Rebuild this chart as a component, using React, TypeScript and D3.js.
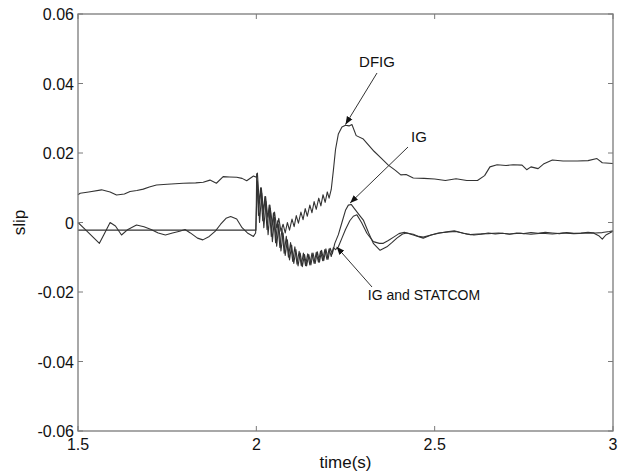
import React from "react";
import * as d3 from "d3";

const xTicks = [1.5, 2, 2.5, 3];
const yTicks = [-0.06, -0.04, -0.02, 0, 0.02, 0.04, 0.06];
const yTickLabels = ["-0.06", "-0.04", "-0.02", "0", "0.02", "0.04", "0.06"];

// DFIG slip
const dfigT = [1.5, 1.506, 1.53, 1.566, 1.59, 1.608, 1.63, 1.646, 1.665, 1.683, 1.70, 1.72, 1.75, 1.795, 1.83, 1.851, 1.87, 1.888, 1.907, 1.925, 1.945, 1.96, 1.973, 1.992, 2.0, 2.003,
  2.008, 2.014, 2.02, 2.026, 2.032, 2.038, 2.045, 2.051, 2.057, 2.063, 2.069, 2.075, 2.081, 2.087, 2.093, 2.1, 2.106, 2.112, 2.118, 2.125, 2.131, 2.137, 2.143, 2.15, 2.156, 2.162, 2.168, 2.175, 2.181, 2.187, 2.193, 2.199, 2.204,
  2.21, 2.216, 2.222, 2.23, 2.24, 2.25, 2.26, 2.268, 2.28, 2.3, 2.33, 2.35, 2.37, 2.39, 2.405, 2.42, 2.44, 2.47, 2.5, 2.53, 2.56, 2.59, 2.62, 2.64, 2.655, 2.675, 2.7, 2.72, 2.745, 2.758, 2.77, 2.79, 2.805, 2.83, 2.86, 2.9, 2.93, 2.955, 2.97, 3.0];
const dfigV = [0.008, 0.0084, 0.0088, 0.0094, 0.0088, 0.0079, 0.0082, 0.0089, 0.0092, 0.0096, 0.0102, 0.0108, 0.011, 0.0113, 0.0114, 0.0116, 0.0122, 0.0113, 0.0132, 0.0131, 0.013, 0.0127, 0.012, 0.0134, 0.013, 0.0142,
  0.006, 0.01, 0.0035, 0.0075, 0.0015, 0.005, -0.0005, 0.003, -0.0015, 0.0012, -0.0025, -0.0005, -0.003, 0.0, -0.0022, 0.001, -0.0012, 0.002, -0.0002, 0.003, 0.0008, 0.004, 0.0018, 0.005, 0.0028, 0.006, 0.0038, 0.007, 0.0048, 0.008, 0.0058, 0.0088, 0.007,
  0.0095, 0.015, 0.021, 0.0255, 0.0275, 0.028, 0.0278, 0.0282, 0.025, 0.024, 0.0205, 0.0185, 0.0165, 0.015, 0.0137, 0.0138, 0.0128, 0.0127, 0.0125, 0.0121, 0.0126, 0.0121, 0.0121, 0.0135, 0.016, 0.0166, 0.0164, 0.0166, 0.0165, 0.0152, 0.016, 0.0155, 0.0168, 0.018, 0.0177, 0.0177, 0.0178, 0.0184, 0.0172, 0.017];

// IG slip
const igT = [1.5, 1.52, 1.545, 1.56, 1.575, 1.59, 1.605, 1.622, 1.64, 1.664, 1.685, 1.705, 1.725, 1.745, 1.765, 1.785, 1.8, 1.815, 1.835, 1.85, 1.868, 1.885, 1.9, 1.915, 1.928, 1.945, 1.96, 1.975, 1.992, 1.998,
  2.003, 2.009, 2.015, 2.021, 2.027, 2.033, 2.039, 2.045, 2.051, 2.057, 2.063, 2.069, 2.075, 2.081, 2.087, 2.093, 2.099, 2.105, 2.111, 2.117, 2.123, 2.129, 2.135, 2.141, 2.147, 2.153, 2.159, 2.165, 2.171, 2.177, 2.183, 2.189, 2.195, 2.201, 2.207, 2.213,
  2.22, 2.23, 2.24, 2.25, 2.258, 2.266, 2.275, 2.29, 2.3, 2.315, 2.328, 2.347, 2.366, 2.38, 2.394, 2.41, 2.422, 2.44, 2.455, 2.468, 2.49, 2.515, 2.54, 2.555, 2.57, 2.59, 2.61, 2.63,
  2.65, 2.67, 2.69, 2.71, 2.73, 2.75, 2.77, 2.79, 2.81, 2.83, 2.85, 2.87, 2.89, 2.91, 2.93, 2.95, 2.97, 2.99, 3.0];
const igV = [0.0, -0.002, -0.0045, -0.006, -0.003, 0.0, -0.001, -0.0036, -0.002, -0.0007, -0.0012, -0.002, -0.003, -0.0036, -0.003, -0.0025, -0.002, -0.003, -0.0045, -0.005, -0.004, -0.0025, -0.0005, 0.0012, 0.0017, 0.001, -0.0015, -0.003, -0.004, -0.003,
  0.012, 0.0, 0.0085, -0.0015, 0.006, -0.0035, 0.004, -0.0055, 0.0015, -0.0068, -0.0005, -0.0082, -0.003, -0.0095, -0.005, -0.0108, -0.0065, -0.0118, -0.0078, -0.0125, -0.0088, -0.0127, -0.0092, -0.0125, -0.0092, -0.0122, -0.0088, -0.0118, -0.0084, -0.0114, -0.008, -0.011, -0.0076, -0.0106, -0.0074, -0.009,
  -0.006, -0.0035, 0.0, 0.0035, 0.005, 0.0052, 0.004, 0.002, 0.0007, -0.003, -0.006, -0.008, -0.007, -0.0058, -0.0045, -0.0033, -0.003, -0.0034, -0.004, -0.0042, -0.0036, -0.003, -0.0026, -0.0024, -0.0028, -0.0033, -0.0036, -0.0034,
  -0.003, -0.0033, -0.0031, -0.0034, -0.003, -0.0032, -0.0029, -0.0031, -0.0028, -0.003, -0.0032, -0.0029, -0.0031, -0.003, -0.0028, -0.003, -0.0029, -0.0026, -0.0024];

// IG and STATCOM slip
const igsT = [1.5, 1.999, 2.001, 2.006, 2.012, 2.018, 2.024, 2.03, 2.036, 2.042, 2.048, 2.054, 2.06, 2.066, 2.072, 2.078, 2.084, 2.09, 2.096, 2.102, 2.108, 2.114, 2.12, 2.126, 2.132, 2.138, 2.144, 2.15, 2.156, 2.162, 2.168, 2.174, 2.18, 2.186, 2.192, 2.198, 2.204, 2.21, 2.216,
  2.222, 2.23, 2.24, 2.25, 2.262, 2.272, 2.282, 2.295, 2.31, 2.328, 2.345, 2.356, 2.37, 2.385, 2.4, 2.415, 2.44, 2.468, 2.49,
  2.51, 2.54, 2.56, 2.58, 2.6, 2.62, 2.65, 2.68, 2.71, 2.74, 2.77, 2.8, 2.83, 2.86, 2.89, 2.92, 2.945, 2.96, 2.97, 2.98, 3.0];
const igsV = [-0.0022, -0.0022, 0.014, 0.002, 0.01, 0.0005, 0.0075, -0.002, 0.005, -0.004, 0.0028, -0.0058, 0.0005, -0.0072, -0.0018, -0.0088, -0.004, -0.01, -0.0058, -0.0112, -0.007, -0.012, -0.0083, -0.0124, -0.0088, -0.0124, -0.009, -0.0122, -0.0088, -0.0118, -0.0086, -0.0114, -0.0082, -0.011, -0.0078, -0.0106, -0.0076, -0.0098, -0.0072,
  -0.0078, -0.007, -0.0045, -0.002, 0.0005, 0.0018, 0.0022, 0.0, -0.0031, -0.0055, -0.006, -0.006, -0.0052, -0.0042, -0.0032, -0.0028, -0.0036, -0.0045, -0.0036,
  -0.003, -0.0027, -0.0026, -0.0031, -0.0035, -0.0033, -0.0032, -0.003, -0.0033, -0.0031, -0.0034, -0.0031, -0.0033, -0.003, -0.0032, -0.0031, -0.003, -0.0038, -0.0048, -0.0036, -0.0025];

const W = 635;
const H = 476;
const M = { left: 78, right: 22, top: 14, bottom: 45 };
const FONT = "'Liberation Sans', Arial, sans-serif";

export default function App() {
  const x = d3.scaleLinear().domain([1.5, 3]).range([M.left, W - M.right]);
  const y = d3.scaleLinear().domain([-0.06, 0.06]).range([H - M.bottom, M.top]);
  const line = d3
    .line<[number, number]>()
    .x((d) => x(d[0]))
    .y((d) => y(d[1]));
  const zip = (t: number[], v: number[]) => t.map((tt, i) => [tt, v[i]] as [number, number]);
  const series = [zip(igsT, igsV), zip(igT, igV), zip(dfigT, dfigV)];

  const annots = [
    { text: "DFIG", tx: 377, ty: 67, size: 15, from: [377, 73], tip: [x(2.25), y(0.0282)] },
    { text: "IG", tx: 419, ty: 142, size: 15, from: [408, 147], tip: [x(2.263), y(0.0056)] },
    { text: "IG and STATCOM", tx: 424, ty: 300, size: 14, from: [372, 287], tip: [x(2.225), y(-0.007)] },
  ];

  const axisColor = "#7a7a7a";
  const x0 = M.left, x1 = W - M.right, y0 = H - M.bottom, y1 = M.top;

  return (
    <div style={{ position: "fixed", left: 0, top: 0 }}>
      <svg width={W} height={H} style={{ display: "block", background: "#fff" }}>
        <defs>
          <marker id="ah" viewBox="0 0 10 10" refX="10" refY="5" markerWidth="8" markerHeight="8" markerUnits="userSpaceOnUse" orient="auto">
            <path d="M0,1 L10,5 L0,9 z" fill="#111" />
          </marker>
        </defs>
        {series.map((s, i) => (
          <path key={i} d={line(s) || ""} fill="none" stroke="#333" strokeWidth={1.1} strokeLinejoin="round" />
        ))}
        <rect x={x0} y={y1} width={x1 - x0} height={y0 - y1} fill="none" stroke={axisColor} strokeWidth={1.3} />
        {xTicks.map((t) => (
          <g key={"xt" + t}>
            <line x1={x(t)} x2={x(t)} y1={y0} y2={y0 - 5} stroke={axisColor} />
            <line x1={x(t)} x2={x(t)} y1={y1} y2={y1 + 5} stroke={axisColor} />
            <text x={x(t)} y={y0 + 19} textAnchor="middle" fontFamily={FONT} fontSize={16} fill="#111">
              {String(t)}
            </text>
          </g>
        ))}
        {yTicks.map((t, i) => (
          <g key={"yt" + t}>
            <line x1={x0} x2={x0 + 5} y1={y(t)} y2={y(t)} stroke={axisColor} />
            <line x1={x1} x2={x1 - 5} y1={y(t)} y2={y(t)} stroke={axisColor} />
            <text x={x0 - 4} y={y(t) + 6} textAnchor="end" fontFamily={FONT} fontSize={16} fill="#111">
              {yTickLabels[i]}
            </text>
          </g>
        ))}
        <text x={(x0 + x1) / 2} y={H - 8} textAnchor="middle" fontFamily={FONT} fontSize={17} fill="#111">
          time(s)
        </text>
        <text transform={`translate(25,${(y0 + y1) / 2}) rotate(-90)`} textAnchor="middle" fontFamily={FONT} fontSize={17} fill="#111">
          slip
        </text>
        {annots.map((a) => (
          <g key={a.text}>
            <line x1={a.from[0]} y1={a.from[1]} x2={a.tip[0]} y2={a.tip[1]} stroke="#333" strokeWidth={1} markerEnd="url(#ah)" />
            <text x={a.tx} y={a.ty} textAnchor="middle" fontFamily={FONT} fontSize={a.size} fill="#111">
              {a.text}
            </text>
          </g>
        ))}
      </svg>
    </div>
  );
}
